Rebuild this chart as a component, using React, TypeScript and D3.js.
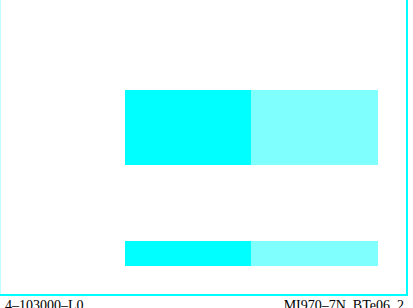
import React from "react";
import * as d3 from "d3";

const categories = ["row1", "row2"];
const thickness = [3, 1];
const seriesA = [50, 50];
const seriesB = [50, 50];
const leftLabel = "4\u2013103000\u2013L0";
const rightLabel = "MI970\u20137N, BTe06_2";

const W = 413;
const H = 308;

export default function App() {
  const x = d3.scaleLinear().domain([0, 100]).range([125, 378]);
  const yc = d3.scalePoint<string>().domain(categories).range([127.5, 253.5]);
  const h = d3.scaleLinear().domain([0, 3]).range([0, 75]);

  return (
    <svg
      width={W}
      height={H}
      style={{ position: "absolute", left: 0, top: 0, background: "#fff" }}
    >
      {categories.map((c, i) => {
        const hh = h(thickness[i]);
        const y0 = (yc(c) as number) - hh / 2;
        return (
          <g key={c}>
            <rect x={x(0)} y={y0} width={x(seriesA[i]) - x(0)} height={hh} fill="#00FFFF" />
            <rect
              x={x(seriesA[i])}
              y={y0}
              width={x(seriesA[i] + seriesB[i]) - x(seriesA[i])}
              height={hh}
              fill="#80FFFF"
            />
          </g>
        );
      })}
      <line x1={0.5} y1={0} x2={0.5} y2={295} stroke="#C0FFFF" strokeWidth={1} />
      <line x1={407} y1={0} x2={407} y2={296} stroke="#00FFFF" strokeWidth={2} />
      <line x1={0} y1={295} x2={408} y2={295} stroke="#00FFFF" strokeWidth={2} />
      <text x={5} y={310} fontFamily="Liberation Serif" fontSize={14} fill="#000">
        {leftLabel}
      </text>
      <text x={404} y={310} fontFamily="Liberation Serif" fontSize={14} fill="#000" textAnchor="end">
        {rightLabel}
      </text>
    </svg>
  );
}
